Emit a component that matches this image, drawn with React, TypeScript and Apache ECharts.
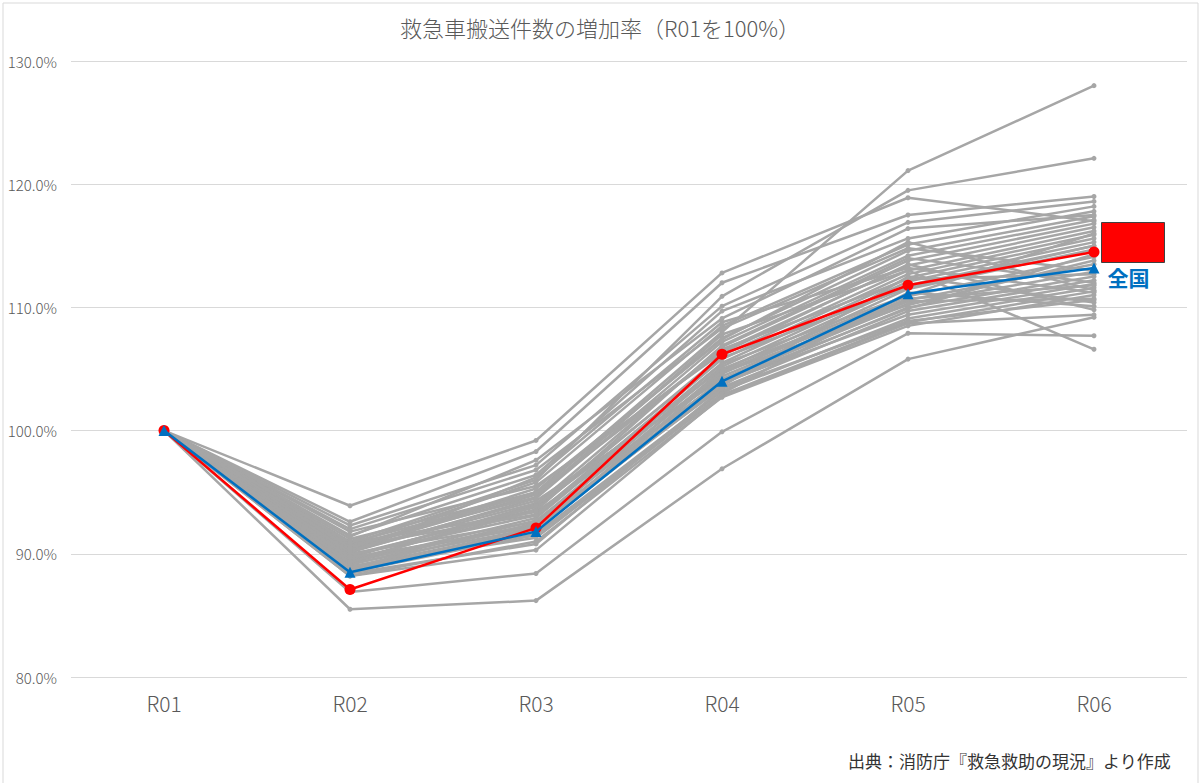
import { useEffect, useRef } from 'react';
import * as echarts from 'echarts';

const categories = ['R01', 'R02', 'R03', 'R04', 'R05', 'R06'];
const yTicks = [80, 90, 100, 110, 120, 130];

// 各都道府県（R02〜R06, R01 = 100）
const prefectureRows: number[][] = [
  [90.5, 95.0, 108.0, 121.1, 128.0],
  [91.0, 96.0, 110.9, 119.5, 122.1],
  [93.9, 99.2, 112.8, 118.9, 117.0],
  [92.6, 98.3, 112.0, 117.5, 119.0],
  [92.3, 97.2, 110.1, 116.9, 118.6],
  [91.5, 96.4, 109.7, 115.6, 118.2],
  [90.8, 95.8, 108.5, 115.1, 117.8],
  [91.2, 95.0, 107.5, 114.6, 117.4],
  [90.1, 94.5, 107.2, 114.2, 117.1],
  [89.7, 94.0, 106.8, 113.8, 116.8],
  [90.4, 94.8, 106.5, 113.4, 116.5],
  [89.9, 93.6, 106.1, 113.0, 116.2],
  [90.6, 93.2, 105.8, 112.7, 115.9],
  [89.3, 92.9, 105.5, 112.4, 115.6],
  [90.0, 92.6, 105.2, 112.1, 115.3],
  [89.6, 92.3, 104.9, 111.8, 115.0],
  [88.9, 92.0, 104.6, 111.5, 114.7],
  [89.8, 93.8, 105.0, 110.9, 114.1],
  [90.2, 94.1, 104.4, 110.6, 113.5],
  [89.1, 92.7, 104.1, 110.3, 112.9],
  [88.7, 91.9, 103.8, 110.0, 112.5],
  [89.4, 92.4, 103.5, 109.7, 112.2],
  [90.9, 93.4, 103.9, 109.4, 111.9],
  [88.5, 91.6, 103.2, 109.1, 111.6],
  [89.0, 91.3, 102.9, 108.8, 111.3],
  [88.2, 91.0, 102.7, 108.5, 111.0],
  [90.3, 94.3, 104.2, 110.5, 110.7],
  [89.2, 92.1, 103.6, 112.5, 110.4],
  [88.8, 91.5, 103.0, 111.2, 110.1],
  [91.8, 95.5, 106.3, 113.5, 109.8],
  [88.2, 90.3, 102.8, 108.7, 109.4],
  [86.9, 88.4, 99.9, 107.9, 107.7],
  [85.5, 86.2, 96.9, 105.8, 109.2],
  [90.7, 94.6, 107.8, 113.0, 106.6],
  [92.0, 96.8, 108.3, 114.8, 113.0],
  [89.5, 93.5, 106.9, 114.0, 112.0],
  [90.5, 95.3, 107.4, 115.3, 111.4],
  [88.6, 91.8, 104.7, 110.2, 113.8],
  [89.9, 93.1, 105.4, 111.0, 116.0],
  [91.4, 97.6, 109.1, 116.4, 117.5],
  [90.1, 96.2, 108.8, 113.2, 111.2],
  [88.4, 90.8, 103.4, 108.9, 110.6],
  [89.7, 92.2, 104.0, 109.9, 114.3],
  [90.9, 94.9, 106.6, 112.3, 112.7],
  [89.3, 93.9, 105.9, 111.6, 115.0],
  [88.9, 92.5, 104.8, 110.7, 111.8],
];

const highlightValues = [100, 87.1, 92.1, 106.2, 111.8, 114.5];
const nationalValues = [100, 88.5, 91.8, 104.0, 111.1, 113.2];

const FONT = '"Noto Sans CJK JP", "Noto Sans", sans-serif';

export default function App() {
  const ref = useRef<HTMLDivElement | null>(null);

  useEffect(() => {
    document.body.style.margin = '0';
    if (!ref.current) return;
    const chart = echarts.init(ref.current, undefined, { renderer: 'svg' });

    const graySeries = prefectureRows.map((row, i) => ({
      name: `pref${i + 1}`,
      type: 'line',
      data: [100, ...row],
      symbol: 'circle',
      symbolSize: 5,
      lineStyle: { color: '#a6a6a6', width: 2.5 },
      itemStyle: { color: '#a6a6a6' },
      z: 2,
    }));

    chart.setOption({
      animation: false,
      backgroundColor: '#ffffff',
      textStyle: { fontFamily: FONT },
      title: {
        text: '救急車搬送件数の増加率（R01を100%）',
        left: 'center',
        top: 11,
        textStyle: { color: '#595959', fontSize: 22, fontWeight: 300, fontFamily: FONT },
      },
      grid: { left: 71, right: 13, top: 61, bottom: 106 },
      xAxis: {
        type: 'category',
        data: categories,
        boundaryGap: true,
        axisLine: { show: false },
        axisTick: { show: false },
        axisLabel: { color: '#595959', fontSize: 21, fontWeight: 300, margin: 15, fontFamily: FONT },
      },
      yAxis: {
        type: 'value',
        min: yTicks[0],
        max: yTicks[yTicks.length - 1],
        interval: 10,
        axisLine: { show: false },
        axisTick: { show: false },
        splitLine: { lineStyle: { color: '#d9d9d9', width: 1 } },
        axisLabel: {
          color: '#595959',
          fontSize: 15,
          fontWeight: 300,
          margin: 14,
          fontFamily: FONT,
          formatter: (v: number) => `${v.toFixed(1)}%`,
        },
      },
      series: [
        ...graySeries,
        {
          name: 'highlight',
          type: 'line',
          data: highlightValues,
          symbol: 'circle',
          symbolSize: 11,
          lineStyle: { color: '#ff0000', width: 2.5 },
          itemStyle: { color: '#ff0000' },
          z: 3,
        },
        {
          name: '全国',
          type: 'line',
          data: nationalValues.map((v, i) =>
            i === nationalValues.length - 1
              ? {
                  value: v,
                  label: {
                    show: true,
                    formatter: '全国',
                    position: 'right',
                    offset: [3, 9],
                    color: '#0070c0',
                    fontSize: 21,
                    fontWeight: 'bold',
                    fontFamily: FONT,
                  },
                }
              : v,
          ),
          symbol: 'triangle',
          symbolSize: 11,
          lineStyle: { color: '#0070c0', width: 2.5 },
          itemStyle: { color: '#0070c0' },
          z: 4,
        },
      ],
      graphic: [
        {
          type: 'rect',
          left: 0.5,
          top: 0.5,
          shape: { width: 1195, height: 781 },
          style: { fill: 'none', stroke: '#d9d9d9', lineWidth: 1 },
          silent: true,
        },
        {
          type: 'rect',
          left: 1101,
          top: 222,
          shape: { width: 63, height: 40 },
          style: { fill: '#ff0000', stroke: '#404040', lineWidth: 1 },
          z: 10,
        },
        {
          type: 'text',
          right: 29,
          top: 752,
          style: {
            text: '出典：消防庁『救急救助の現況』より作成',
            fill: '#333333',
            fontSize: 17,
            fontFamily: FONT,
          },
        },
      ],
    });

    return () => chart.dispose();
  }, []);

  return <div ref={ref} style={{ width: 1200, height: 783 }} />;
}
